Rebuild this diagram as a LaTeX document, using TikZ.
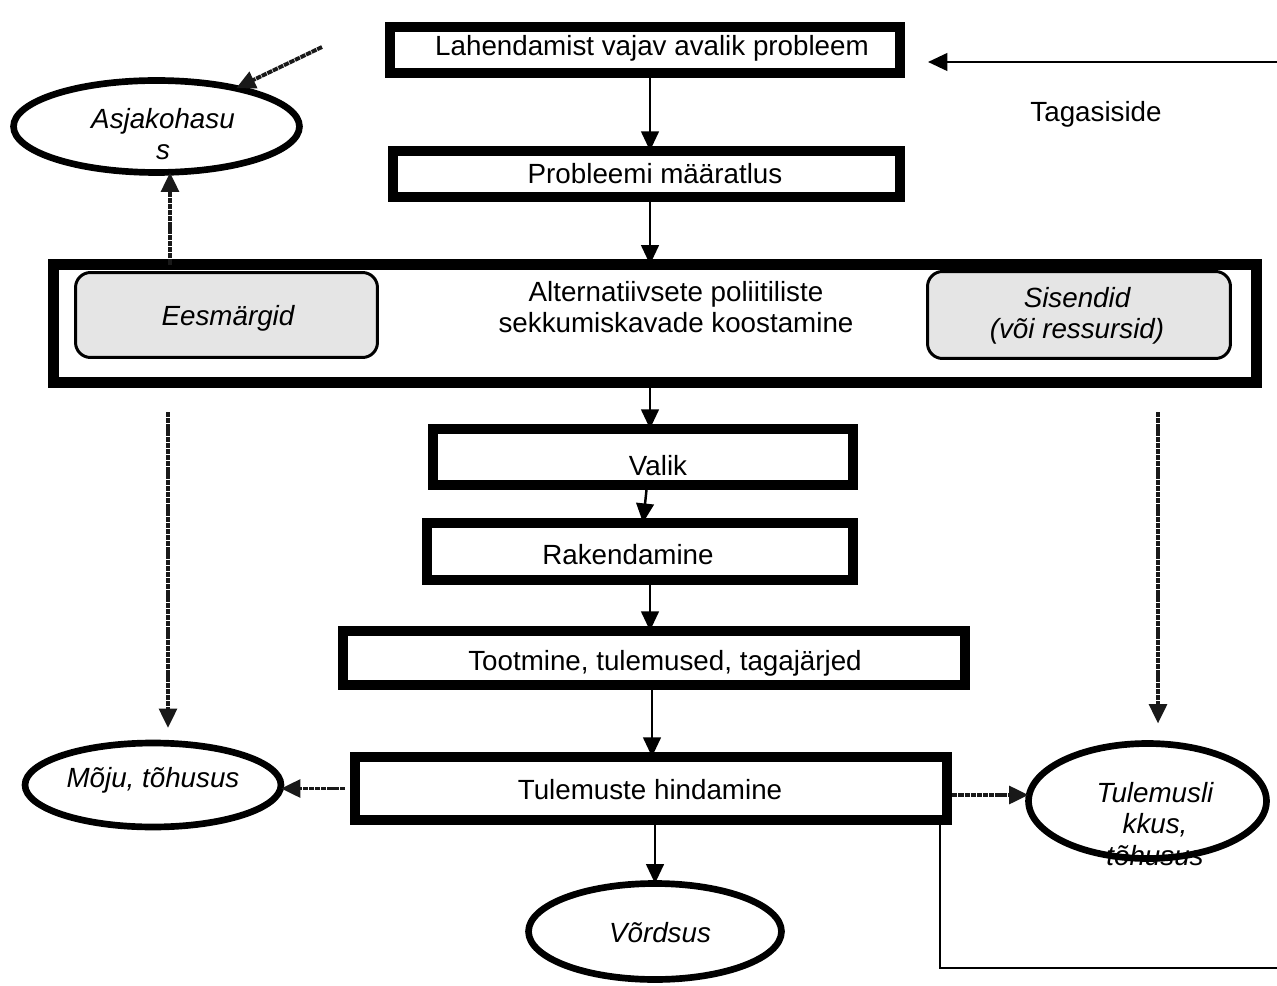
\documentclass[tikz,border=0pt]{standalone}
\usepackage{fontspec}
\setmainfont{Liberation Sans}
\usetikzlibrary{arrows.meta,shapes.geometric}
\begin{document}
\begin{tikzpicture}[x=0.02cm,y=-0.02cm,
  every node/.style={font=\fontsize{15.8}{18}\selectfont, inner sep=0pt, outer sep=0pt},
  stepbox/.style={draw=black, line width=5.5pt, rectangle, fill=white},
  bigbox/.style={draw=black, line width=6pt, rectangle},
  softbox/.style={draw=black, line width=1.7pt, rounded corners=0.3cm, fill=black!10},
  oval/.style={draw=black, line width=3.8pt, ellipse, fill=white},
  txt/.style={align=center},
  itxt/.style={align=center, font=\fontsize{15.8}{18}\selectfont\itshape},
  arr/.style={line width=1.4pt, -{Triangle[length=11pt,width=10pt]}},
  dotarr/.style={line width=2.2pt, black!90, dash pattern=on 3pt off 0.5pt, -{Triangle[length=11pt,width=10pt]}},
  thinline/.style={line width=0.8pt}
]
\useasboundingbox (0,0) rectangle (1277,986);

% main boxes
\node[stepbox, minimum width=10.21cm, minimum height=0.93cm] (b1) at (645,50) {};
\node at (652,48) (b1t) {Lahendamist vajav avalik probleem};
\node[stepbox, minimum width=10.15cm, minimum height=0.93cm] (b2) at (646.5,174) {};
\node at (655,174) (b2t) {Probleemi määratlus};

\node[bigbox, minimum width=24.06cm, minimum height=2.36cm] (alt) at (655,323.5) {};
\node[txt] at (676,307) (altt) {Alternatiivsete poliitiliste\\sekkumiskavade koostamine};
\node[softbox, minimum width=6.04cm, minimum height=1.7cm] (ees) at (226.5,315) {};
\node[itxt] at (228,318) (eest) {Eesmärgid};
\node[softbox, minimum width=6.06cm, minimum height=1.74cm] (sis) at (1079,315) {};
\node[itxt] at (1077,316) (sist) {Sisendid\\(või ressursid)};

\node[stepbox, minimum width=8.41cm, minimum height=1.13cm] (val) at (643,457) {};
\node at (658,466) (valt) {Valik};
\node[stepbox, minimum width=8.53cm, minimum height=1.15cm] (rak) at (640,551.5) {};
\node at (628,555) (rakt) {Rakendamine};
\node[stepbox, minimum width=12.45cm, minimum height=1.09cm] (toot) at (654,658) {};
\node at (665,663) (toott) {Tootmine, tulemused, tagajärjed};
\node[stepbox, minimum width=11.85cm, minimum height=1.27cm] (tul) at (651,788.5) {};
\node at (650,790) (tult) {Tulemuste hindamine};

% ellipses
\node[oval, minimum width=5.72cm, minimum height=1.84cm] (asj) at (156.5,126.5) {};
\node[itxt] at (163,134) (asjt) {Asjakohasu\\s};
\node[oval, minimum width=5.12cm, minimum height=1.68cm] (moju) at (153,785) {};
\node[itxt] at (153,780) (mojut) {Mõju, tõhusus};
\node[oval, minimum width=4.76cm, minimum height=2.3cm] (tlk) at (1147.5,801) {};
\node[itxt] at (1155,824) (tlkt) {Tulemusli\\kkus,\\tõhusus};
\node[oval, minimum width=5.06cm, minimum height=1.92cm] (vord) at (655,931.5) {};
\node[itxt] at (660,933) (vordt) {Võrdsus};

\node at (1096,114) (tag) {Tagasiside};

% helper coordinates
\coordinate (ax) at (650,0);
\coordinate (fbR) at (1277,62);
\coordinate (fbE) at (928,62);
\coordinate (fbB) at (1277,968);
\coordinate (blx) at (940,0);
\coordinate (asjSrc) at (322,47);
\coordinate (lx) at (170,0);
\coordinate (ldS) at (168,412);
\coordinate (rdS) at (1158,412);

% main arrows
\draw[arr] (b1.south -| ax) -- (b2.north -| ax);
\draw[arr] (b2.south -| ax) -- (alt.north -| ax);
\draw[arr] (alt.south -| ax) -- (val.north -| ax);
\draw[arr] ([xshift=0.08cm]val.south) -- (rak.north -| val.south);
\draw[arr] (rak.south -| ax) -- (toot.north -| ax);
\draw[arr] ([xshift=0.04cm]toot.south -| ax) -- ([xshift=0.04cm]tul.north -| ax);
\draw[arr] ([xshift=0.1cm]tul.south -| ax) -- ([xshift=0.1cm]vord.north -| ax);

% feedback
\draw[arr] (fbR) -- (fbE);
\draw[thinline] (tul.south -| blx) |- (fbB);

% dotted arrows
\draw[dotarr] (asjSrc) -- (asj);
\draw[dotarr] (alt.north -| lx) -- (asj.south -| lx);
\draw[dotarr, shorten >=0.3cm] (ldS) -- (moju.north -| ldS);
\draw[dotarr, shorten >=0.4cm] (rdS) -- (tlk.north -| rdS);
\draw[dotarr, shorten <=0.2cm] (tul.west) -- (tul.west -| moju.east);
\draw[dotarr, shorten <=0.1cm] ([yshift=-0.13cm]tul.east) -- ([yshift=-0.13cm]tul.east -| tlk.west);
\end{tikzpicture}
\end{document}
